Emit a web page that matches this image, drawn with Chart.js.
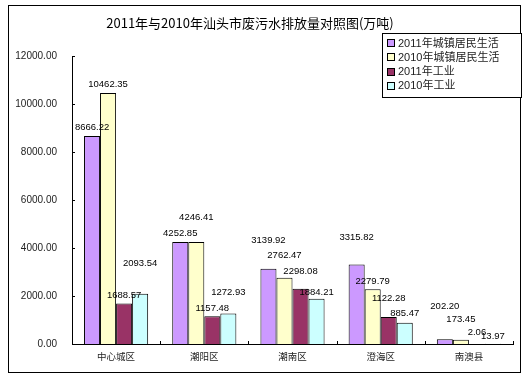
<!DOCTYPE html>
<html><head><meta charset="utf-8">
<script src="https://cdn.jsdelivr.net/npm/chart.js@4.4.1/dist/chart.umd.min.js"></script>
<style>html,body{margin:0;padding:0;background:#fff;}</style>
</head><body>
<canvas id="c" width="525" height="386" style="width:525px;height:386px;display:block"></canvas>
<script>
// ---- data ----
const categories = ['中心城区', '潮阳区', '潮南区', '澄海区', '南澳县'];
const seriesNames = ['2011年城镇居民生活', '2010年城镇居民生活', '2011年工业', '2010年工业'];
const urban2011 = [8666.22, 4252.85, 3139.92, 3315.82, 202.20];
const urban2010 = [10462.35, 4246.41, 2762.47, 2279.79, 173.45];
const industry2011 = [1688.57, 1157.48, 2298.08, 1122.28, 2.06];
const industry2010 = [2093.54, 1272.93, 1884.21, 885.47, 13.97];
const yMin = 0, yMax = 12000, yStep = 2000;
const titleText = '2011年与2010年汕头市废污水排放量对照图(万吨)';

// ---- styling ----
const colors = ['#CC99FF', '#FFFFCC', '#993366', '#CCFFFF'];
// how far (px) each value label sits above its bar (labels were hand-placed in the original)
const labelLift = [
  [9, 9, 28, 27, 33],
  [9, 25, 22, 8, 20],
  [8, 8, 17, 19, 12],
  [30, 21, 6, 9, 7]
];
const NUM_FONT = '"Liberation Sans", "Noto Sans CJK SC", sans-serif';
const CJK_FONT = '"Liberation Sans", "Noto Sans CJK SC", sans-serif';

const seriesValues = [urban2011, urban2010, industry2011, industry2010];

const decor = {
  id: 'decor',
  afterDatasetsDraw(chart) {
    const ctx = chart.ctx;
    ctx.save();
    ctx.fillStyle = '#000';
    ctx.font = '9.5px ' + NUM_FONT;
    ctx.textAlign = 'center';
    ctx.textBaseline = 'middle';
    chart.data.datasets.forEach((ds, d) => {
      const meta = chart.getDatasetMeta(d);
      meta.data.forEach((el, i) => {
        ctx.fillText(ds.data[i].toFixed(2), el.x, el.y - labelLift[d][i]);
      });
    });
    ctx.restore();
  },
  afterDraw(chart) {
    const ctx = chart.ctx;
    const ca = chart.chartArea;
    const ys = chart.scales.y;
    ctx.save();
    // outer frame
    ctx.strokeStyle = '#000';
    ctx.lineWidth = 1;
    ctx.strokeRect(8.5, 5.5, 512, 367);
    // inside tick marks
    ctx.beginPath();
    ys.ticks.forEach(t => {
      const y = Math.round(ys.getPixelForValue(t.value)) + 0.5;
      ctx.moveTo(ca.left, y); ctx.lineTo(ca.left + 3, y);
    });
    for (let i = 1; i <= categories.length; i++) {
      const x = Math.round(ca.left + (ca.right - ca.left) * i / categories.length) + 0.5;
      ctx.moveTo(x, ca.bottom); ctx.lineTo(x, ca.bottom - 3);
    }
    ctx.stroke();
    // title
    ctx.fillStyle = '#000';
    ctx.font = '13px "Noto Sans CJK SC", sans-serif';
    ctx.textAlign = 'center';
    ctx.textBaseline = 'middle';
    ctx.fillText(titleText, 250, 23);
    // legend
    const lx = 382.5, ly = 33.5, lw = 139, lh = 64;
    ctx.fillStyle = '#fff';
    ctx.fillRect(lx, ly, lw, lh);
    ctx.strokeRect(lx, ly, lw, lh);
    ctx.font = '11px ' + CJK_FONT;
    ctx.textAlign = 'left';
    chart.data.datasets.forEach((ds, d) => {
      const cy = 43 + d * 14.3;
      ctx.fillStyle = ds.backgroundColor;
      ctx.fillRect(387.5, Math.round(cy) - 3.5, 7, 7);
      ctx.strokeRect(387.5, Math.round(cy) - 3.5, 7, 7);
      ctx.fillStyle = '#222';
      ctx.fillText(ds.label, 398, cy + 0.5);
    });
    ctx.restore();
  }
};

new Chart(document.getElementById('c'), {
  type: 'bar',
  data: {
    labels: categories,
    datasets: seriesNames.map((name, d) => ({
      label: name,
      data: seriesValues[d],
      backgroundColor: colors[d],
      borderColor: '#000',
      borderWidth: 1,
      categoryPercentage: 0.727,
      barPercentage: 1.0
    }))
  },
  options: {
    responsive: false,
    animation: false,
    devicePixelRatio: 1,
    layout: { padding: { top: 56, right: 12, bottom: 12, left: 0 } },
    plugins: { legend: { display: false }, title: { display: false }, tooltip: { enabled: false } },
    scales: {
      x: {
        grid: { display: false, drawTicks: false },
        border: { display: true, color: '#000', width: 1 },
        ticks: { color: '#222', font: { size: 9.5, family: CJK_FONT }, padding: 8, maxRotation: 0 },
        afterFit(s) { s.height = 30; }
      },
      y: {
        min: yMin, max: yMax,
        grid: { display: false, drawTicks: false },
        border: { display: true, color: '#000', width: 1 },
        ticks: { stepSize: yStep, color: '#222', font: { size: 10, family: NUM_FONT }, padding: 15,
          callback: v => Number(v).toFixed(2) },
        afterFit(s) { s.width = 72; }
      }
    }
  },
  plugins: [decor]
});
</script>
</body></html>
